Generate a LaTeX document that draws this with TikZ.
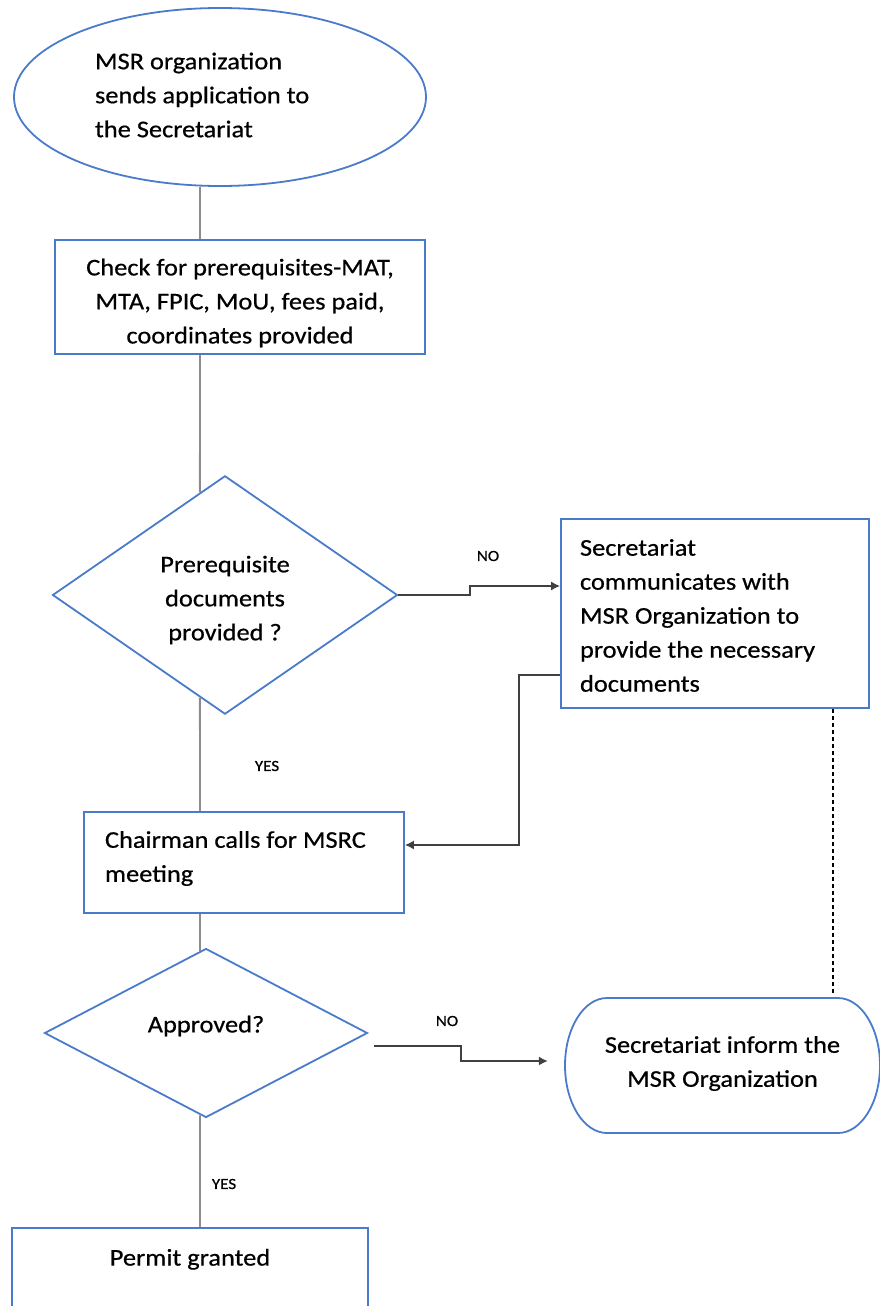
\documentclass[tikz,border=0pt]{standalone}
\usepackage{fontspec}
\setmainfont{Carlito}[FakeStretch=1.1, FakeBold=0.6]
\usetikzlibrary{shapes.geometric,arrows.meta,calc}
\definecolor{bordblue}{HTML}{4A7BCB}
\definecolor{vgray}{HTML}{8C8C8C}
\definecolor{hgray}{HTML}{404040}
\newcommand{\shiftbox}[2]{\raisebox{#1}[\height][\depth]{#2}}
\begin{document}
\begin{tikzpicture}[x=1pt,y=-1pt,
  every node/.style={font=\fontsize{24}{34}\selectfont, text=black},
  shapeline/.style={draw=bordblue, line width=1.8pt},
  boxnode/.style={shapeline, rectangle, inner sep=0pt},
  decision/.style={shapeline, diamond, inner sep=0pt, align=center},
  vline/.style={draw=vgray, line width=1.8pt},
  hline/.style={draw=hgray, line width=1.4pt},
  arr/.style={hline, -{Latex[length=9pt,width=9pt]}},
  lbl/.style={font=\fontsize{15.5}{18}\selectfont}]
\clip (0,0) rectangle (880,1306);
\useasboundingbox (0,0) rectangle (880,1306);
\coordinate (spine) at (200,0);
% nodes
\node[shapeline, ellipse, minimum width=412pt, minimum height=178pt, inner sep=0pt] (start) at (220,97)
  {\shiftbox{2pt}{\parbox{250pt}{\raggedright MSR organization\\sends application to\\the Secretariat}}};
\node[boxnode, minimum width=370pt, minimum height=114pt] (check) at (240,297)
  {\shiftbox{-6pt}{\parbox{360pt}{\centering Check for prerequisites-MAT,\\MTA, FPIC, MoU, fees paid,\\coordinates provided}}};
\node[decision, minimum width=345pt, minimum height=231pt] (d1) at (225,595)
  {\shiftbox{-5pt}{\parbox{150pt}{\centering Prerequisite\\documents\\provided ?}}};
\node[boxnode, minimum width=308pt, minimum height=189pt, inner xsep=19pt] (sec) at (715,613.5)
  {\shiftbox{-2pt}{\parbox{270pt}{\raggedright Secretariat\\communicates with\\MSR Organization to\\provide the necessary\\documents}}};
\node[boxnode, minimum width=320pt, minimum height=101pt, inner xsep=21pt] (chair) at (244,862.5)
  {\shiftbox{4pt}{\parbox{278pt}{\raggedright Chairman calls for MSRC\\meeting}}};
\node[decision, minimum width=323pt, minimum height=169pt] (d2) at (206,1033)
  {\shiftbox{7pt}{Approved?}};
\node[rectangle, inner sep=0pt, minimum width=315pt, minimum height=135pt, align=center] (term) at (722.5,1063.5)
  {Secretariat inform the\\MSR Organization};
\draw[shapeline] (607,998) -- (838,998) arc(-90:90:42 and 67.5) -- (607,1133) arc(90:270:42 and 67.5) -- cycle;
\node[boxnode, anchor=north, minimum width=356pt, inner ysep=21pt, align=center] (permit) at (190,1227)
  {Permit granted\\\strut\\\strut};
% vertical main flow
\draw[vline] (start.south -| spine) -- (check.north -| spine);
\draw[vline] (check.south -| spine) -- ($(d1.north)!0.145!(d1.west)$);
\draw[vline] ($(d1.south)!0.145!(d1.west)$) -- (chair.north -| spine);
\draw[vline] (chair.south -| spine) -- ($(d2.north)!0.037!(d2.west)$);
\draw[vline] ($(d2.south)!0.037!(d2.west)$) -- (permit.north -| spine);
% NO branch 1
\coordinate (k1) at (470,586);
\draw[arr] (d1.east) -| (k1) -- (k1 -| sec.west);
\node[lbl] (no1) at (488,556) {NO};
\node[lbl] (yes1) at (267,766) {YES};
% return to chairman
\coordinate (k2) at (519,675);
\coordinate (k3) at (519,845);
\draw[arr] (sec.west |- k2) -- (k2) -- (k3) -- (k3 -| chair.east);
% dashed link
\coordinate (k4) at (833,0);
\draw[black, line width=1.3pt, dash pattern=on 4pt off 3pt] (sec.south -| k4) -- (term.north -| k4);
% NO branch 2
\coordinate (k5) at (461,1061);
\draw[arr] ([xshift=6pt,yshift=-13pt]d2.east) -| (k5) -- ([xshift=-17pt]term.west |- k5);
\node[lbl] (no2) at (447,1021) {NO};
\node[lbl] (yes2) at (224,1184) {YES};
\end{tikzpicture}
\end{document}
